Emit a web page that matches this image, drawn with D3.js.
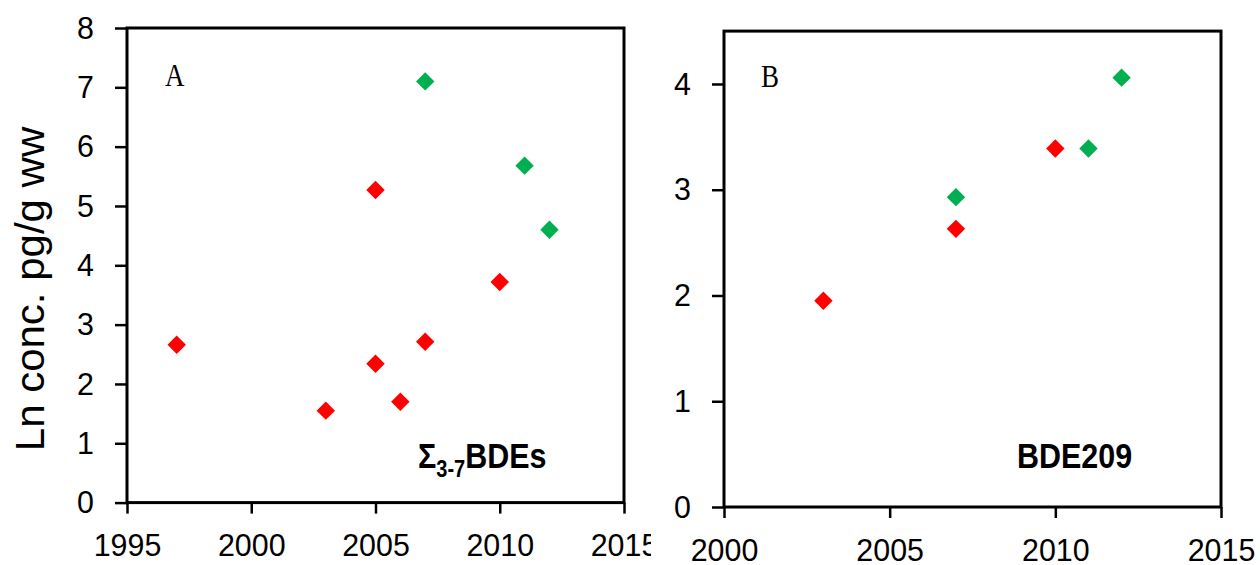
<!DOCTYPE html>
<html>
<head>
<meta charset="utf-8">
<script src="https://cdn.jsdelivr.net/npm/d3@7"></script>
<style>
  body { margin: 0; background: #fff; }
  svg text { font-family: "Liberation Sans", Arial, sans-serif; fill: #000; }
</style>
</head>
<body>
<div id="canvas"></div>
<script>
// data
var yearsA_red = [1997, 2003, 2005, 2005, 2006, 2007, 2010],
    lnA_red    = [2.66, 1.55, 5.27, 2.34, 1.70, 2.71, 3.72],
    yearsA_grn = [2007, 2011, 2012],
    lnA_grn    = [7.10, 5.68, 4.60];

var yearsB_red = [2003, 2007, 2010],
    lnB_red    = [1.95, 2.63, 3.39],
    yearsB_grn = [2007, 2011, 2012],
    lnB_grn    = [2.93, 3.39, 4.06];

var ticksXA = [1995, 2000, 2005, 2010, 2015],
    ticksYA = [0, 1, 2, 3, 4, 5, 6, 7, 8],
    ticksXB = [2000, 2005, 2010, 2015],
    ticksYB = [0, 1, 2, 3, 4];

var RED = '#ff0000', GREEN = '#00b050';
var SX = 0.95;   // tick digits, slightly squeezed
var SXB = 0.87;  // bold labels are squeezed more

var svg = d3.select('#canvas').append('svg')
    .attr('width', 1260)
    .attr('height', 565);

function pairs(xs, ys){ return xs.map(function(x, i){ return {x: x, y: ys[i]}; }); }

function panel(o){
  var root = svg.append('g');
  // each chart sits on its own white sheet (B covers the tail of A's last tick label)
  root.append('rect')
    .attr('x', o.sheetX).attr('y', 0)
    .attr('width', o.sheetW).attr('height', 565)
    .attr('fill', '#fff');

  var scaleX = d3.scaleLinear().domain(o.xDomain).range([o.l, o.r]);
  var scaleY = d3.scaleLinear().domain(o.yDomain).range([o.b, o.t]);

  var axisX = d3.axisBottom(scaleX).tickValues(o.xTicks).tickSize(11).tickSizeOuter(0).tickPadding(20).tickFormat(d3.format('d'));
  var axisY = d3.axisLeft(scaleY).tickValues(o.yTicks).tickSize(12).tickSizeOuter(0).tickPadding(19).tickFormat(d3.format('d'));

  var gx = root.append('g').attr('transform', 'translate(0,' + o.b + ')').call(axisX);
  var gy = root.append('g').attr('transform', 'translate(' + o.l + ',0)').call(axisY);
  [gx, gy].forEach(function(g){
    g.select('.domain').remove();
    g.selectAll('line').attr('stroke', '#000').attr('stroke-width', 2.5);
    g.selectAll('text').attr('font-size', 32).style('font-family', '"Liberation Sans", Arial, sans-serif');
  });
  gx.selectAll('text').attr('transform', 'scale(' + SX + ',1)');
  gy.selectAll('text').attr('x', -33 / SX).attr('transform', 'scale(' + SX + ',1)');

  // frame
  root.append('rect')
    .attr('x', o.l).attr('y', o.t)
    .attr('width', o.r - o.l).attr('height', o.b - o.t)
    .attr('fill', 'none').attr('stroke', '#000').attr('stroke-width', 3);

  var sym = d3.symbol().type(d3.symbolSquare).size(170);
  [[o.red, RED], [o.grn, GREEN]].forEach(function(s){
    root.append('g').selectAll('path').data(s[0]).enter()
      .append('path')
      .attr('d', sym)
      .attr('fill', s[1])
      .attr('transform', function(d){ return 'translate(' + scaleX(d.x) + ',' + scaleY(d.y) + ') rotate(45)'; });
  });

  // panel letter
  root.append('g').attr('transform', 'translate(' + o.letterX + ',' + o.letterY + ') scale(' + SXB + ',1)')
    .append('text')
    .style('font-family', '"Liberation Serif", "Times New Roman", serif')
    .attr('font-size', 31)
    .text(o.letter);
  return root;
}

panel({
  sheetX: 0, sheetW: 651,
  l: 127, r: 624, t: 28, b: 502.6,
  xDomain: [1995, 2015], yDomain: [0, 8],
  xTicks: ticksXA, yTicks: ticksYA,
  red: pairs(yearsA_red, lnA_red), grn: pairs(yearsA_grn, lnA_grn),
  letter: 'A', letterX: 165, letterY: 86
});

panel({
  sheetX: 651, sheetW: 609,
  l: 724, r: 1221, t: 31.1, b: 507,
  xDomain: [2000, 2015], yDomain: [0, 4.5],
  xTicks: ticksXB, yTicks: ticksYB,
  red: pairs(yearsB_red, lnB_red), grn: pairs(yearsB_grn, lnB_grn),
  letter: 'B', letterX: 761, letterY: 87
});

// y axis title
svg.append('g').attr('transform', 'translate(44,289) scale(0.95,1) rotate(-90)')
  .append('text')
  .attr('text-anchor', 'middle')
  .attr('font-size', 42)
  .text('Ln conc. pg/g ww');

// compound labels
var sumLab = svg.append('g').attr('transform', 'translate(418,468) scale(' + SXB + ',1)')
  .append('text').attr('font-size', 35).attr('font-weight', 'bold');
sumLab.append('tspan').text('\u03A3');
sumLab.append('tspan').attr('font-size', 23).attr('dy', 9).text('3-7');
sumLab.append('tspan').attr('dy', -9).text('BDEs');

svg.append('g').attr('transform', 'translate(1017,468) scale(' + SXB + ',1)')
  .append('text').attr('font-size', 35).attr('font-weight', 'bold')
  .text('BDE209');
</script>
</body>
</html>
